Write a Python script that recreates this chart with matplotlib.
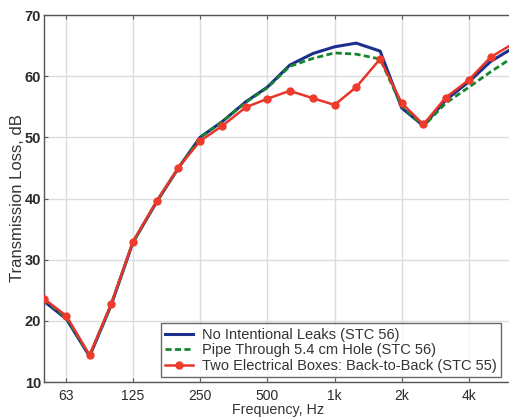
import matplotlib
matplotlib.use("Agg")
import matplotlib.pyplot as plt
from matplotlib.ticker import FixedLocator, FixedFormatter, NullLocator

plt.rcParams['font.family'] = ['Liberation Sans', 'DejaVu Sans']

# One-third octave band centre frequencies, Hz
freqs = [50, 63, 80, 100, 125, 160, 200, 250, 315, 400, 500, 630, 800,
         1000, 1250, 1600, 2000, 2500, 3150, 4000, 5000, 6300]

no_leaks = [23.2, 20.3, 14.2, 22.6, 32.8, 39.5, 45.0, 50.0, 52.6, 55.8,
            58.2, 61.8, 63.7, 64.8, 65.4, 64.1, 54.8, 51.9, 56.1, 59.1,
            62.4, 64.6]
pipe_hole = [23.4, 20.5, 14.3, 22.7, 32.8, 39.5, 45.0, 50.0, 52.6, 55.7,
             58.1, 61.6, 62.9, 63.8, 63.6, 62.8, 55.1, 51.8, 55.6, 58.2,
             60.7, 63.1]
elec_boxes = [23.6, 20.8, 14.4, 22.8, 32.9, 39.6, 45.05, 49.4, 51.9, 54.9,
              56.3, 57.6, 56.4, 55.3, 58.2, 62.8, 55.6, 52.1, 56.5, 59.4,
              63.1, 65.3]

tick_freqs = [63, 125, 250, 500, 1000, 2000, 4000]
tick_labels = ['63', '125', '250', '500', '1k', '2k', '4k']
y_ticks = [10, 20, 30, 40, 50, 60, 70]

label_names = ['No Intentional Leaks (STC 56)',
               'Pipe Through 5.4 cm Hole (STC 56)',
               'Two Electrical Boxes: Back-to-Back (STC 55)']

W, H = 509, 418
fig = plt.figure(figsize=(W / 100, H / 100), dpi=100)
ax_l, ax_r, ax_t, ax_b = 44, 513, 15, 382
ax = fig.add_axes([ax_l / W, 1 - ax_b / H, (ax_r - ax_l) / W, (ax_b - ax_t) / H])

ax.plot(freqs, no_leaks, color='#1c2f8c', lw=2.2, label=label_names[0], zorder=3)
ax.plot(freqs, pipe_hole, color='#14852a', lw=2.0, ls=(0, (2.2, 1.2)),
        label=label_names[1], zorder=4)
ax.plot(freqs, elec_boxes, color='#e8352b', lw=1.8, marker='o', ms=5,
        mfc='#ee3b2c', mec='#ee3b2c', label=label_names[2], zorder=5)

ax.set_xscale('log')
ax.set_xlim(50, 6300)
ax.set_ylim(10, 70)
ax.xaxis.set_major_locator(FixedLocator(tick_freqs))
ax.xaxis.set_major_formatter(FixedFormatter(tick_labels))
ax.xaxis.set_minor_locator(NullLocator())
ax.set_yticks(y_ticks)

ax.grid(True, color='#dcdcdc', lw=1.0)
ax.set_axisbelow(True)
ax.tick_params(direction='in', length=3, width=0.8, colors='#555555',
               labelcolor='#2a2a2a', top=True, right=True)
ax.tick_params(axis='x', labelsize=10, pad=5)
ax.tick_params(axis='y', labelsize=10.5, pad=2)
for lbl in ax.get_yticklabels():
    lbl.set_fontweight('semibold')
for sp in ax.spines.values():
    sp.set_color('#555555')
    sp.set_linewidth(1.0)

ax.set_xlabel('Frequency, Hz', fontsize=10.3, color='#333333', labelpad=0)
ax.set_ylabel('Transmission Loss, dB', fontsize=12, color='#333333', labelpad=0)

# legend box placed in figure pixels (left=161, bottom=377)
leg = ax.legend(loc='lower left',
                bbox_to_anchor=((161 - ax_l) / (ax_r - ax_l), (ax_b - 377) / (ax_b - ax_t)),
                fontsize=10.5, frameon=True, fancybox=False, borderpad=0.3,
                labelspacing=0.1, handlelength=1.9, handletextpad=0.6,
                borderaxespad=0.0)
leg.get_frame().set_edgecolor('#444444')
leg.get_frame().set_linewidth(1.0)
for t in leg.get_texts():
    t.set_color('#333333')

fig.savefig('out.png', dpi=100)
